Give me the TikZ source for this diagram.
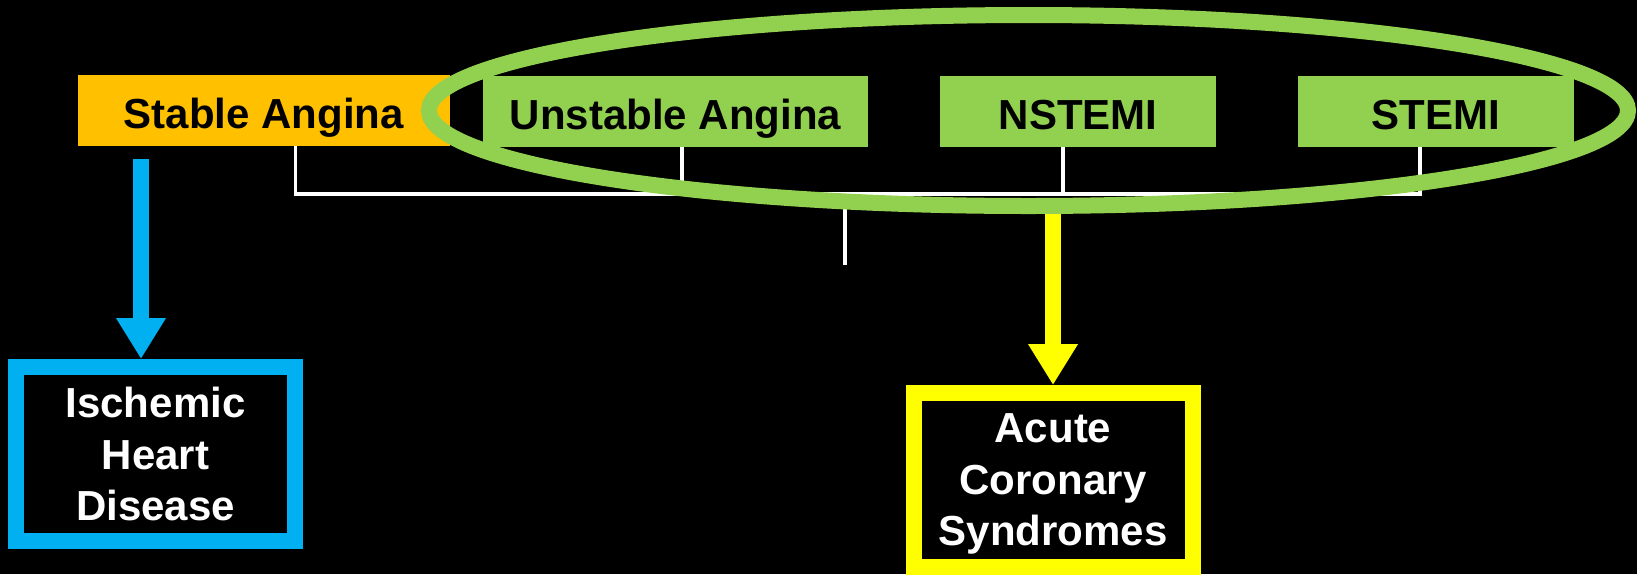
\documentclass[tikz,border=0pt]{standalone}
\usepackage{fontspec}
\setmainfont{Liberation Sans}
\usetikzlibrary{arrows.meta,calc}
\definecolor{amber}{HTML}{FFC000}
\definecolor{leaf}{HTML}{92D050}
\definecolor{sky}{HTML}{00B0F0}
\definecolor{lemon}{HTML}{FFFF00}
\begin{document}
\begin{tikzpicture}[x=1pt,y=-1pt,
  topbox/.style={minimum width=#1, minimum height=71pt, inner sep=0pt,
    font=\fontsize{42}{50}\selectfont\bfseries, text=black,
    text height=35pt, text depth=0pt},
  groupbox/.style={draw=#1, line width=16pt, minimum width=279pt,
    minimum height=174pt, inner sep=0pt, align=center, text=white,
    font=\fontsize{42}{51.5}\selectfont\bfseries},
  wire/.style={white, line width=3.5pt},
  fatarrow/.style={#1, line width=16pt, -{Triangle[width=47pt,length=41pt]}},
  ring/.style={leaf, line width=16pt}
]
% canvas
\fill[black] (0,0) rectangle (1637,574);
\useasboundingbox (0,0) rectangle (1637,574);

% the four presentations
\node[topbox=372pt, fill=amber] (sa) at (264,110.5) {Stable Angina};
\node[topbox=385pt, fill=leaf]  (ua) at (675.5,111.5) {Unstable Angina};
\node[topbox=276pt, fill=leaf]  (ns) at (1078,111.5) {NSTEMI};
\node[topbox=276pt, fill=leaf]  (st) at (1436,111.5) {STEMI};

% the two groupings
\node[groupbox=sky]   (ihd) at (155.5,454) {Ischemic\\Heart\\Disease};
\node[groupbox=lemon] (acs) at (1053,480) {Acute\\Coronary\\S\smash{y}ndromes};

% bracket joining the presentations
\coordinate (bar) at (845,194);
\draw[wire] ([xshift=31.5pt]sa.south) |- (bar) -| ([xshift=-16pt]st.south);
\draw[wire] ([xshift=6.5pt]ua.south) -- ++(0,47.5);
\draw[wire] ([xshift=-15pt]ns.south) -- ++(0,47.5);
\draw[wire] (bar) -- ++(0,71);

% arrows to the groupings
\draw[fatarrow=sky] ($(sa.south)+(-123,13)$) -- ([xshift=-14.5pt]ihd.north);
\draw[fatarrow=lemon] ($(ns.south)+(-25,60)$) -- (acs.north);

% ring around the acute presentations
\draw[ring] (1028.5,110.5) ellipse [x radius=599.5, y radius=95.5];
\end{tikzpicture}
\end{document}
